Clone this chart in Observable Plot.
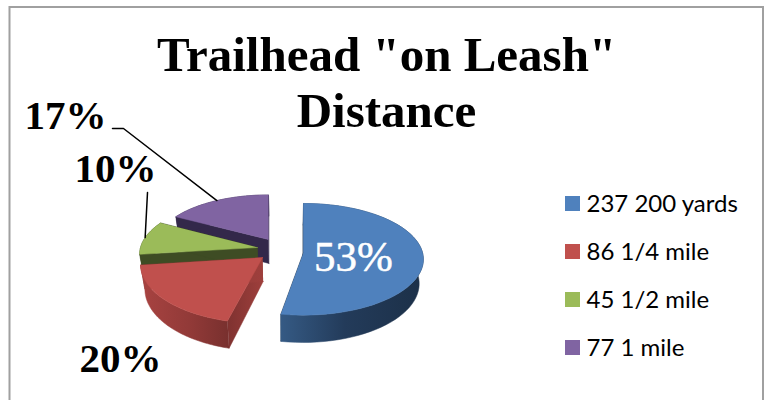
<!DOCTYPE html>
<html>
<head>
<meta charset="utf-8">
<script src="https://cdn.jsdelivr.net/npm/d3@7"></script>
<script src="https://cdn.jsdelivr.net/npm/@observablehq/plot@0.6"></script>
<style>html,body{margin:0;padding:0;background:#fff}svg{display:block}</style>
</head>
<body>
<div id="chart"></div>
<script>
// Data
const categories = ["200 yards", "1/4 mile", "1/2 mile", "1 mile"];
const counts = [237, 86, 45, 77];
const shares = [53, 20, 10, 17];
const colors = ["#4f81bd", "#c0504d", "#9bbb59", "#8064a2"];
const titleLines = ['Trailhead "on Leash"', "Distance"];

// Layout of the exploded 3D pie
const apex = [[303, 252], [262, 257], [257, 247], [268, 239]];
const radiusX = [119, 121, 117, 112];
const radiusY = [55, 58, 54, 50];
const startNudge = [0, 0.07, 0, 0];
const endNudge = [-0.02, 0, 0, 0];
const tilt = 0.122, depth = 24, vanishX = 283, shrink = 0.97;
const cutFaces = ["#1c3049", "url(#redCut)", "#3e4c24", "#33284a"];
const walls = ["url(#blueWall)", "url(#redWall)", "#3e4c24", "#33284a"];

const total = d3.sum(shares);
const stops = Array.from(d3.cumsum(shares), v => v / total * 2 * Math.PI);
const startAngle = i => (i === 0 ? 0 : stops[i - 1]) + startNudge[i];
const endAngle = i => stops[i] + endNudge[i];

function rimPoint(i, a) {
  const u = Math.sin(a), v = -Math.cos(a), d = 1 - tilt * v;
  return {x: apex[i][0] + radiusX[i] * u / d, y: apex[i][1] + radiusY[i] * v / d, d};
}
const down = (p, d) => ({x: vanishX + (p.x - vanishX) * shrink, y: p.y + depth / d});
const arcPoints = (i, n = 60) => d3.range(n + 1).map(k => rimPoint(i, startAngle(i) + (endAngle(i) - startAngle(i)) * k / n));
const centre = i => ({x: apex[i][0], y: apex[i][1]});

const faces = [];
[3, 2, 1, 0].forEach(i => {
  const pts = arcPoints(i), c = centre(i), first = pts[0], last = pts[pts.length - 1];
  const downC = down(c, 1);
  // cut faces
  [first, last].forEach(e => faces.push({fill: cutFaces[i], pts: [c, e, down(e, e.d), downC]}));
  // outer wall
  faces.push({fill: walls[i], pts: [...pts, ...pts.slice().reverse().map(p => down(p, p.d))]});
  // top
  faces.push({fill: colors[i], pts: [c, ...pts]});
});

// leader lines: label side to the slice's rim at its middle angle
const midAngle = i => (startAngle(i) + endAngle(i)) / 2;
const leaderStarts = {3: [[112, 128], [123, 128]], 2: [[147, 192]]};
const leader3 = [...leaderStarts[3].map(([x, y]) => ({x, y})), rimPoint(3, midAngle(3))];
const leader2 = [...leaderStarts[2].map(([x, y]) => ({x, y})), rimPoint(2, midAngle(2))];

const whiteLabel = [{text: shares[0] + "%", x: 353, y: 257}];
const blackLabels = [
  {text: shares[1] + "%", x: 120, y: 358},
  {text: shares[2] + "%", x: 115, y: 168},
  {text: shares[3] + "%", x: 65, y: 115}
];

const legendRows = categories.map((c, i) => ({
  category: c,
  label: counts[i] + " " + c,
  y1: 196 + i * 48,
  y2: 211 + i * 48,
  ym: 203.5 + i * 48
}));

const gradient = (defs, id, stopsList) => {
  const g = defs.append("linearGradient").attr("id", id);
  stopsList.forEach(([o, c]) => g.append("stop").attr("offset", o).attr("stop-color", c));
};

const chart = Plot.plot({
  width: 770,
  height: 400,
  margin: 0,
  x: {domain: [0, 770], axis: null},
  y: {domain: [400, 0], axis: null},
  color: {domain: categories, range: colors},
  style: {background: "#fff"},
  marks: [
    () => {
      const defs = d3.create("svg:defs");
      gradient(defs, "blueWall", [[0, "#355a84"], [0.45, "#233b5a"], [1, "#1c3048"]]);
      gradient(defs, "redWall", [[0, "#a84341"], [0.55, "#923a38"], [1, "#78302e"]]);
      gradient(defs, "redCut", [[0, "#7f3230"], [1, "#9e3f3c"]]);
      return defs.node();
    },
    Plot.rect([{x1: 9.5, x2: 763, y1: 7, y2: 420}], {
      x1: "x1", x2: "x2", y1: "y1", y2: "y2", fill: "#fff", stroke: "#a0a0a0", strokeWidth: 2
    }),
    ...faces.map(f => Plot.line(f.pts, {x: "x", y: "y", fill: f.fill, stroke: f.fill, strokeWidth: 0.5})),
    Plot.line(leader3, {x: "x", y: "y", stroke: "#000", strokeWidth: 1.5}),
    Plot.line(leader2, {x: "x", y: "y", stroke: "#000", strokeWidth: 1.5}),
    Plot.text(titleLines.map((t, i) => ({t, y: 55 + i * 56})), {
      x: () => 386, y: "y", text: "t", fontSize: 49, fontWeight: "bold",
      fontFamily: "Liberation Serif", fill: "#000", textAnchor: "middle", lineAnchor: "middle"
    }),
    Plot.text(whiteLabel, {
      x: "x", y: "y", text: "text", fill: "#fff", stroke: "#fff", strokeWidth: 0.5, fontSize: 43,
      fontFamily: "Liberation Serif", textAnchor: "middle", lineAnchor: "middle"
    }),
    Plot.text(blackLabels, {
      x: "x", y: "y", text: "text", fill: "#000", fontWeight: "bold", fontSize: 41,
      fontFamily: "Liberation Serif", textAnchor: "middle", lineAnchor: "middle"
    }),
    Plot.rect(legendRows, {x1: () => 565, x2: () => 580, y1: "y1", y2: "y2", fill: "category"}),
    Plot.text(legendRows, {
      x: () => 586, y: "ym", text: "label", fontSize: 24, fontFamily: "Lato",
      fill: "#000", textAnchor: "start", lineAnchor: "middle"
    })
  ]
});
document.getElementById("chart").append(chart);
</script>
</body>
</html>
